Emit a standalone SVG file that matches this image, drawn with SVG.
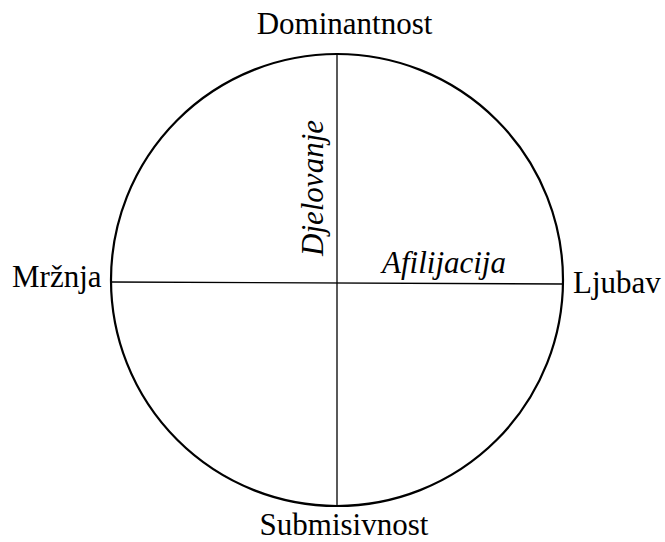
<svg xmlns="http://www.w3.org/2000/svg" width="665" height="542" viewBox="0 0 665 542">
<style>
text{font-family:'Liberation Serif','Times New Roman',serif;font-size:31px;fill:#000}
.i{font-style:italic}
.c{fill:none;stroke:#000;stroke-width:2.2}
.l{stroke:#000;stroke-width:1.3}
</style>
<rect width="665" height="542" fill="#fff"/>
<g id="circle"><circle class="c" cx="337" cy="280" r="226"/></g>
<g id="axes">
<line class="l" x1="337" y1="54" x2="337" y2="506"/>
<line class="l" x1="111" y1="282" x2="563" y2="284"/>
</g>
<g id="dominantnost"><text x="344.5" y="34" text-anchor="middle">Dominantnost</text></g>
<g id="submisivnost"><text x="344" y="535" text-anchor="middle">Submisivnost</text></g>
<g id="mrznja"><text x="12" y="287">Mržnja</text></g>
<g id="ljubav"><text x="573" y="293">Ljubav</text></g>
<g id="afilijacija"><text class="i" x="382" y="273">Afilijacija</text></g>
<g id="djelovanje"><text class="i" transform="translate(323,256) rotate(-90)">Djelovanje</text></g>
</svg>
